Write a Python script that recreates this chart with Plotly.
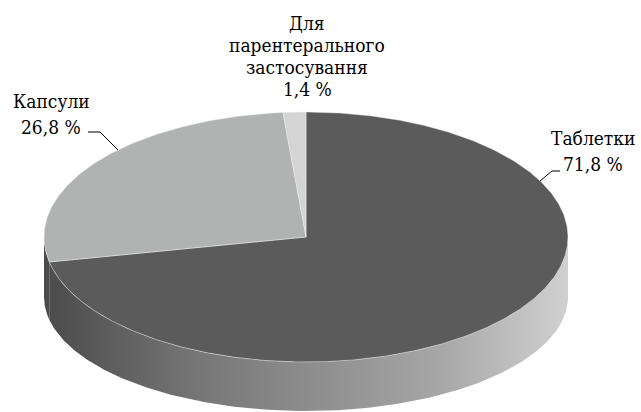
import numpy as np
import plotly.graph_objects as go

# Shares of dosage forms, %
categories = ["Таблетки", "Капсули", "Для парентерального застосування"]
shares = [71.8, 26.8, 1.4]
# Label text lines above each value
name_lines = [["Таблетки"], ["Капсули"], ["Для", "парентерального", "застосування"]]

top_colors = ["#5b5b5b", "#b1b3b2", "#d5d5d5"]
side_scale = [[0.0, "#4a4a4a"], [0.3, "#777777"], [0.75, "#a6a6a6"], [1.0, "#d0d0d0"]]

# Pie geometry in pixel space
CX, CY, RX, RY = 306.0, 237.0, 262.0, 125.0
CYB, RYB = 297.0, 114.0
FONT = "DejaVu Serif Condensed"
FONT_SIZE = 19


def ell(t_deg, cy, ry):
    t = np.radians(t_deg)
    return CX + RX * np.cos(t), cy - ry * np.sin(t)


fig = go.Figure()

# slice angle ranges, starting at 12 o'clock, clockwise
bounds = []
start = 90.0
for v in shares:
    end = start - v * 3.6
    bounds.append((start, end))
    start = end

# visible side walls (front half)
for (t0, t1) in bounds:
    for k in (-360.0, 0.0, 360.0):
        lo = max(t1 + k, -180.0)
        hi = min(t0 + k, 0.0)
        if hi - lo <= 0:
            continue
        ts = np.linspace(hi, lo, 200)
        xt, yt = ell(ts, CY, RY)
        xb, yb = ell(ts[::-1], CYB, RYB)
        fig.add_trace(go.Scatter(
            x=np.concatenate([xt, xb, xt[:1]]),
            y=np.concatenate([yt, yb, yt[:1]]),
            mode="lines", fill="toself", line=dict(width=0),
            fillgradient=dict(type="horizontal", colorscale=side_scale,
                              start=CX - RX, stop=CX + RX),
            hoverinfo="skip"))

# top faces
for (t0, t1), col, name in zip(bounds, top_colors, categories):
    ts = np.linspace(t0, t1, max(4, int(abs(t0 - t1) * 2)))
    xs, ys = ell(ts, CY, RY)
    fig.add_trace(go.Scatter(
        x=np.concatenate([[CX], xs, [CX]]),
        y=np.concatenate([[CY], ys, [CY]]),
        mode="lines", fill="toself", fillcolor=col,
        line=dict(color="rgba(235,235,235,0.6)", width=0.8),
        name=name, hoverinfo="name"))

# leader lines
leaders = [
    ([560, 552, 540], [171, 171, 181]),
    ([88, 100, 118], [132, 132, 150]),
]
for lx, ly in leaders:
    fig.add_trace(go.Scatter(x=lx, y=ly, mode="lines",
                             line=dict(color="black", width=1), hoverinfo="skip"))

# labels: name lines plus value, one annotation per line
label_pos = [(593, 138, 26), (51, 101, 26), (307, 23, 22)]
for lines, v, (lx, ly, step) in zip(name_lines, shares, label_pos):
    text_lines = lines + [f"{v:.1f}".replace(".", ",") + " %"]
    for i, s in enumerate(text_lines):
        fig.add_annotation(x=lx, y=ly + i * step, text=s, showarrow=False,
                           xanchor="center", yanchor="middle",
                           font=dict(family=FONT, size=FONT_SIZE, color="black"))

fig.update_layout(
    width=641, height=412,
    margin=dict(l=0, r=0, t=0, b=0),
    paper_bgcolor="white", plot_bgcolor="white",
    showlegend=False,
    xaxis=dict(range=[0, 641], visible=False, fixedrange=True),
    yaxis=dict(range=[412, 0], visible=False, fixedrange=True),
)

fig.write_html("out.html")
